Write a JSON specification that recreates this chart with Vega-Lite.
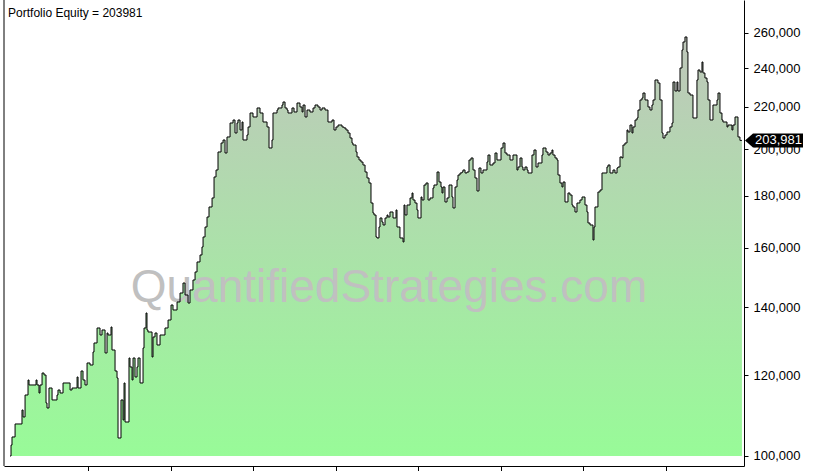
{
"$schema": "https://vega.github.io/schema/vega-lite/v6.json",
"width": 740, "height": 466,
"autosize": "none",
"padding": {"left": 4, "top": 0, "right": 70, "bottom": 5},
"background": "white",
"config": {"view": {"stroke": null}, "font": "Liberation Sans"},
"datasets": {"equity": [
{"year":2014.055,"equity":100000},{"year":2014.067,"equity":102500},{"year":2014.079,"equity":104390},{"year":2014.116,"equity":107500},{"year":2014.200,"equity":110950},{"year":2014.213,"equity":109210},{"year":2014.237,"equity":114770},{"year":2014.273,"equity":118730},{"year":2014.285,"equity":117400},{"year":2014.370,"equity":118730},{"year":2014.382,"equity":117400},{"year":2014.406,"equity":115290},{"year":2014.418,"equity":117400},{"year":2014.443,"equity":120620},{"year":2014.467,"equity":120080},{"year":2014.491,"equity":112720},{"year":2014.503,"equity":111450},{"year":2014.527,"equity":116600},{"year":2014.564,"equity":113490},{"year":2014.624,"equity":114770},{"year":2014.636,"equity":116080},{"year":2014.661,"equity":115290},{"year":2014.697,"equity":117930},{"year":2014.782,"equity":116080},{"year":2014.806,"equity":116600},{"year":2014.867,"equity":119540},{"year":2014.879,"equity":116600},{"year":2014.915,"equity":121170},{"year":2014.939,"equity":118730},{"year":2014.963,"equity":117400},{"year":2014.988,"equity":123380},{"year":2015.024,"equity":122820},{"year":2015.060,"equity":126480},{"year":2015.072,"equity":129080},{"year":2015.109,"equity":133530},{"year":2015.145,"equity":131430},{"year":2015.169,"equity":132930},{"year":2015.206,"equity":126200},{"year":2015.230,"equity":132030},{"year":2015.242,"equity":131430},{"year":2015.278,"equity":133830},{"year":2015.290,"equity":127050},{"year":2015.327,"equity":121170},{"year":2015.351,"equity":119270},{"year":2015.363,"equity":104150},{"year":2015.399,"equity":113490},{"year":2015.424,"equity":108470},{"year":2015.436,"equity":117930},{"year":2015.448,"equity":107980},{"year":2015.496,"equity":124780},{"year":2015.508,"equity":122270},{"year":2015.533,"equity":118730},{"year":2015.545,"equity":124780},{"year":2015.569,"equity":119540},{"year":2015.593,"equity":122270},{"year":2015.605,"equity":124780},{"year":2015.630,"equity":117930},{"year":2015.666,"equity":127630},{"year":2015.678,"equity":133530},{"year":2015.702,"equity":138130},{"year":2015.714,"equity":132930},{"year":2015.726,"equity":132330},{"year":2015.775,"equity":125060},{"year":2015.787,"equity":130840},{"year":2015.811,"equity":132030},{"year":2015.835,"equity":128500},{"year":2015.872,"equity":131430},{"year":2015.932,"equity":133530},{"year":2015.969,"equity":135960},{"year":2016.005,"equity":140650},{"year":2016.029,"equity":139070},{"year":2016.078,"equity":141610},{"year":2016.114,"equity":144510},{"year":2016.150,"equity":147810},{"year":2016.175,"equity":143860},{"year":2016.211,"equity":141280},{"year":2016.235,"equity":145500},{"year":2016.271,"equity":148820},{"year":2016.296,"equity":151540},{"year":2016.320,"equity":155000},{"year":2016.356,"equity":157470},{"year":2016.380,"equity":160340},{"year":2016.393,"equity":164010},{"year":2016.417,"equity":167750},{"year":2016.441,"equity":171580},{"year":2016.465,"equity":175500},{"year":2016.502,"equity":179110},{"year":2016.526,"equity":187810},{"year":2016.550,"equity":190800},{"year":2016.574,"equity":198720},{"year":2016.611,"equity":202800},{"year":2016.635,"equity":204180},{"year":2016.659,"equity":198270},{"year":2016.683,"equity":205570},{"year":2016.720,"equity":212170},{"year":2016.756,"equity":213610},{"year":2016.780,"equity":207430},{"year":2016.804,"equity":212170},{"year":2016.816,"equity":213610},{"year":2016.841,"equity":208840},{"year":2016.865,"equity":212650},{"year":2016.877,"equity":204180},{"year":2016.925,"equity":206490},{"year":2016.938,"equity":210270},{"year":2016.962,"equity":217020},{"year":2016.998,"equity":215070},{"year":2017.047,"equity":219490},{"year":2017.083,"equity":217020},{"year":2017.119,"equity":212650},{"year":2017.168,"equity":210270},{"year":2017.192,"equity":200520},{"year":2017.228,"equity":204180},{"year":2017.240,"equity":217020},{"year":2017.289,"equity":218490},{"year":2017.301,"equity":219490},{"year":2017.349,"equity":220970},{"year":2017.361,"equity":222480},{"year":2017.386,"equity":219490},{"year":2017.410,"equity":218490},{"year":2017.422,"equity":217020},{"year":2017.470,"equity":219490},{"year":2017.495,"equity":217510},{"year":2017.531,"equity":221970},{"year":2017.567,"equity":219980},{"year":2017.592,"equity":217510},{"year":2017.604,"equity":220970},{"year":2017.628,"equity":215070},{"year":2017.652,"equity":218490},{"year":2017.688,"equity":217510},{"year":2017.725,"equity":219490},{"year":2017.749,"equity":220970},{"year":2017.785,"equity":219980},{"year":2017.810,"equity":218490},{"year":2017.834,"equity":219490},{"year":2017.870,"equity":218490},{"year":2017.906,"equity":212650},{"year":2017.955,"equity":213610},{"year":2017.979,"equity":208840},{"year":2018.003,"equity":210270},{"year":2018.028,"equity":211210},{"year":2018.076,"equity":210270},{"year":2018.100,"equity":209790},{"year":2018.124,"equity":208840},{"year":2018.149,"equity":207430},{"year":2018.173,"equity":205100},{"year":2018.197,"equity":202800},{"year":2018.209,"equity":201880},{"year":2018.246,"equity":198720},{"year":2018.258,"equity":196490},{"year":2018.282,"equity":195160},{"year":2018.306,"equity":194280},{"year":2018.330,"equity":192960},{"year":2018.355,"equity":189940},{"year":2018.379,"equity":187380},{"year":2018.403,"equity":185280},{"year":2018.427,"equity":177090},{"year":2018.451,"equity":173140},{"year":2018.464,"equity":172360},{"year":2018.488,"equity":164010},{"year":2018.500,"equity":163630},{"year":2018.524,"equity":167750},{"year":2018.536,"equity":171200},{"year":2018.560,"equity":169650},{"year":2018.573,"equity":168510},{"year":2018.597,"equity":171200},{"year":2018.621,"equity":172360},{"year":2018.633,"equity":171580},{"year":2018.657,"equity":173530},{"year":2018.694,"equity":171200},{"year":2018.730,"equity":174320},{"year":2018.742,"equity":167750},{"year":2018.778,"equity":163630},{"year":2018.815,"equity":162160},{"year":2018.827,"equity":176290},{"year":2018.839,"equity":172360},{"year":2018.863,"equity":176290},{"year":2018.900,"equity":179110},{"year":2018.924,"equity":181140},{"year":2018.936,"equity":178300},{"year":2018.960,"equity":177090},{"year":2018.984,"equity":174320},{"year":2018.996,"equity":171200},{"year":2019.033,"equity":179510},{"year":2019.045,"equity":178300},{"year":2019.069,"equity":184440},{"year":2019.093,"equity":185280},{"year":2019.118,"equity":178300},{"year":2019.142,"equity":179110},{"year":2019.178,"equity":183200},{"year":2019.190,"equity":184440},{"year":2019.227,"equity":189940},{"year":2019.251,"equity":185700},{"year":2019.275,"equity":183620},{"year":2019.287,"equity":181140},{"year":2019.299,"equity":183620},{"year":2019.323,"equity":177500},{"year":2019.348,"equity":179110},{"year":2019.372,"equity":184440},{"year":2019.408,"equity":179510},{"year":2019.420,"equity":175110},{"year":2019.445,"equity":183620},{"year":2019.469,"equity":186540},{"year":2019.481,"equity":188650},{"year":2019.505,"equity":189510},{"year":2019.529,"equity":189940},{"year":2019.541,"equity":190800},{"year":2019.566,"equity":189510},{"year":2019.590,"equity":189940},{"year":2019.614,"equity":195160},{"year":2019.638,"equity":196050},{"year":2019.663,"equity":190800},{"year":2019.687,"equity":187380},{"year":2019.711,"equity":181960},{"year":2019.735,"equity":191670},{"year":2019.759,"equity":189510},{"year":2019.784,"equity":190800},{"year":2019.832,"equity":194280},{"year":2019.844,"equity":197370},{"year":2019.868,"equity":192960},{"year":2019.905,"equity":193840},{"year":2019.929,"equity":198270},{"year":2019.953,"equity":195160},{"year":2020.002,"equity":200520},{"year":2020.026,"equity":202800},{"year":2020.050,"equity":198270},{"year":2020.074,"equity":197370},{"year":2020.111,"equity":195160},{"year":2020.147,"equity":197370},{"year":2020.195,"equity":190800},{"year":2020.208,"equity":192100},{"year":2020.232,"equity":196050},{"year":2020.256,"equity":192100},{"year":2020.268,"equity":190800},{"year":2020.292,"equity":192100},{"year":2020.317,"equity":190800},{"year":2020.329,"equity":189510},{"year":2020.377,"equity":197370},{"year":2020.401,"equity":199620},{"year":2020.426,"equity":192100},{"year":2020.450,"equity":193840},{"year":2020.498,"equity":197370},{"year":2020.510,"equity":200520},{"year":2020.547,"equity":198720},{"year":2020.571,"equity":197370},{"year":2020.595,"equity":198270},{"year":2020.619,"equity":199620},{"year":2020.631,"equity":197370},{"year":2020.656,"equity":196050},{"year":2020.680,"equity":195160},{"year":2020.692,"equity":188650},{"year":2020.716,"equity":185280},{"year":2020.740,"equity":183620},{"year":2020.753,"equity":185700},{"year":2020.777,"equity":177500},{"year":2020.813,"equity":181140},{"year":2020.837,"equity":180320},{"year":2020.862,"equity":176290},{"year":2020.874,"equity":175500},{"year":2020.898,"equity":173530},{"year":2020.922,"equity":177090},{"year":2020.958,"equity":178300},{"year":2020.983,"equity":179510},{"year":2021.019,"equity":176290},{"year":2021.043,"equity":173530},{"year":2021.055,"equity":169270},{"year":2021.080,"equity":168510},{"year":2021.116,"equity":162890},{"year":2021.128,"equity":167750},{"year":2021.140,"equity":175500},{"year":2021.176,"equity":181550},{"year":2021.201,"equity":182370},{"year":2021.225,"equity":189510},{"year":2021.285,"equity":192100},{"year":2021.298,"equity":192960},{"year":2021.322,"equity":189510},{"year":2021.358,"equity":190800},{"year":2021.382,"equity":189510},{"year":2021.407,"equity":191670},{"year":2021.419,"equity":192100},{"year":2021.443,"equity":196490},{"year":2021.467,"equity":196050},{"year":2021.479,"equity":201880},{"year":2021.503,"equity":202800},{"year":2021.528,"equity":208840},{"year":2021.540,"equity":207900},{"year":2021.564,"equity":211210},{"year":2021.588,"equity":207430},{"year":2021.600,"equity":210270},{"year":2021.625,"equity":213610},{"year":2021.649,"equity":214580},{"year":2021.661,"equity":218490},{"year":2021.685,"equity":223490},{"year":2021.709,"equity":224500},{"year":2021.721,"equity":227040},{"year":2021.746,"equity":223490},{"year":2021.782,"equity":219980},{"year":2021.806,"equity":218490},{"year":2021.830,"equity":220970},{"year":2021.843,"equity":223490},{"year":2021.867,"equity":233810},{"year":2021.903,"equity":232230},{"year":2021.927,"equity":223490},{"year":2021.952,"equity":207430},{"year":2021.964,"equity":205100},{"year":2021.988,"equity":206490},{"year":2022.012,"equity":207900},{"year":2022.048,"equity":210270},{"year":2022.073,"equity":212170},{"year":2022.085,"equity":232760},{"year":2022.109,"equity":228070},{"year":2022.133,"equity":232760},{"year":2022.145,"equity":228070},{"year":2022.170,"equity":240240},{"year":2022.194,"equity":250210},{"year":2022.206,"equity":254770},{"year":2022.230,"equity":257670},{"year":2022.254,"equity":249080},{"year":2022.266,"equity":227040},{"year":2022.291,"equity":226020},{"year":2022.327,"equity":214580},{"year":2022.375,"equity":233810},{"year":2022.388,"equity":239160},{"year":2022.412,"equity":238080},{"year":2022.436,"equity":243520},{"year":2022.448,"equity":237540},{"year":2022.472,"equity":234870},{"year":2022.497,"equity":232760},{"year":2022.509,"equity":223490},{"year":2022.533,"equity":213610},{"year":2022.569,"equity":220970},{"year":2022.618,"equity":223490},{"year":2022.630,"equity":227040},{"year":2022.654,"equity":217020},{"year":2022.678,"equity":213610},{"year":2022.690,"equity":212650},{"year":2022.739,"equity":210270},{"year":2022.751,"equity":211210},{"year":2022.799,"equity":208840},{"year":2022.811,"equity":211210},{"year":2022.836,"equity":215070},{"year":2022.872,"equity":205570},{"year":2022.896,"equity":203981},{"year":2022.920,"equity":203981}
],
"labels": [
{"role": "watermark", "label": "QuantifiedStrategies.com", "year": 2018.645, "equity": 141610},
{"role": "title", "label": "Portfolio Equity = 203981", "year": 2014.031, "equity": 269870},
{"role": "last", "label": "203,981", "year": 2022.945, "equity": 203981}
],
"border": [{"year": 2013.982, "lo": 97766, "hi": 280120}]
},
"layer": [
  {"data": {"name": "equity"},
   "mark": {"type": "area", "interpolate": "step-after",
     "color": {"gradient": "linear", "x1": 0, "y1": 0, "x2": 0, "y2": 1,
       "stops": [{"offset": 0, "color": "#bfc7bb"}, {"offset": 1, "color": "#98fb98"}]}},
   "encoding": {
     "x": {"field": "year", "type": "quantitative",
       "scale": {"domain": [2013.982, 2022.945], "nice": false, "zero": false},
       "axis": {"orient": "bottom", "values": [2015,2016,2017,2018,2019,2020,2021,2022], "labels": false, "title": null, "grid": false, "tickSize": 5, "domainColor": "black", "tickColor": "black", "domainWidth": 1, "tickWidth": 1}},
     "y": {"field": "equity", "type": "quantitative",
       "scale": {"type": "log", "domain": [97766, 280120], "nice": false},
       "axis": {"orient": "right", "values": [100000,120000,140000,160000,180000,200000,220000,240000,260000], "format": ",", "title": null, "grid": false, "tickSize": 4, "labelPadding": 5, "labelFontSize": 13, "labelFont": "Liberation Sans", "labelColor": "black", "domainColor": "black", "tickColor": "black", "domainWidth": 1, "tickWidth": 1}},
     "y2": {"datum": 100000}}},
  {"data": {"name": "labels"},
   "transform": [{"filter": "datum.role === 'watermark'"}],
   "mark": {"type": "text", "align": "center", "baseline": "alphabetic", "fontSize": 46, "font": "Liberation Sans", "color": "#c0c0c0"},
   "encoding": {"x": {"field": "year", "type": "quantitative", "axis": {"title": null}}, "y": {"field": "equity", "type": "quantitative", "axis": {"title": null}}, "text": {"field": "label"}}},
  {"data": {"name": "equity"},
   "mark": {"type": "line", "interpolate": "step-after", "color": "black", "strokeWidth": 1},
   "encoding": {"x": {"field": "year", "type": "quantitative", "axis": {"title": null}}, "y": {"field": "equity", "type": "quantitative", "axis": {"title": null}}}},
  {"data": {"name": "border"},
   "mark": {"type": "rule", "color": "black", "strokeWidth": 1},
   "encoding": {"x": {"field": "year", "type": "quantitative", "axis": {"title": null}}, "y": {"field": "lo", "type": "quantitative", "axis": {"title": null}}, "y2": {"field": "hi"}}},
  {"data": {"name": "labels"},
   "transform": [{"filter": "datum.role === 'title'"}],
   "mark": {"type": "text", "align": "left", "baseline": "alphabetic", "fontSize": 12, "font": "Liberation Sans", "color": "black"},
   "encoding": {"x": {"field": "year", "type": "quantitative", "axis": {"title": null}}, "y": {"field": "equity", "type": "quantitative", "axis": {"title": null}}, "text": {"field": "label"}}},
  {"data": {"name": "labels"},
   "transform": [{"filter": "datum.role === 'last'"}],
   "mark": {"type": "point", "shape": "M -1 0 L -0.724 -0.241 L 1 -0.241 L 1 0.241 L -0.724 0.241 Z", "size": 3364, "filled": true, "color": "black", "opacity": 1, "xOffset": 30},
   "encoding": {"x": {"field": "year", "type": "quantitative", "axis": {"title": null}}, "y": {"field": "equity", "type": "quantitative", "axis": {"title": null}}}},
  {"data": {"name": "labels"},
   "transform": [{"filter": "datum.role === 'last'"}],
   "mark": {"type": "text", "align": "left", "baseline": "middle", "fontSize": 13, "font": "Liberation Sans", "color": "white", "xOffset": 11},
   "encoding": {"x": {"field": "year", "type": "quantitative", "axis": {"title": null}}, "y": {"field": "equity", "type": "quantitative", "axis": {"title": null}}, "text": {"field": "label"}}}
]
}
